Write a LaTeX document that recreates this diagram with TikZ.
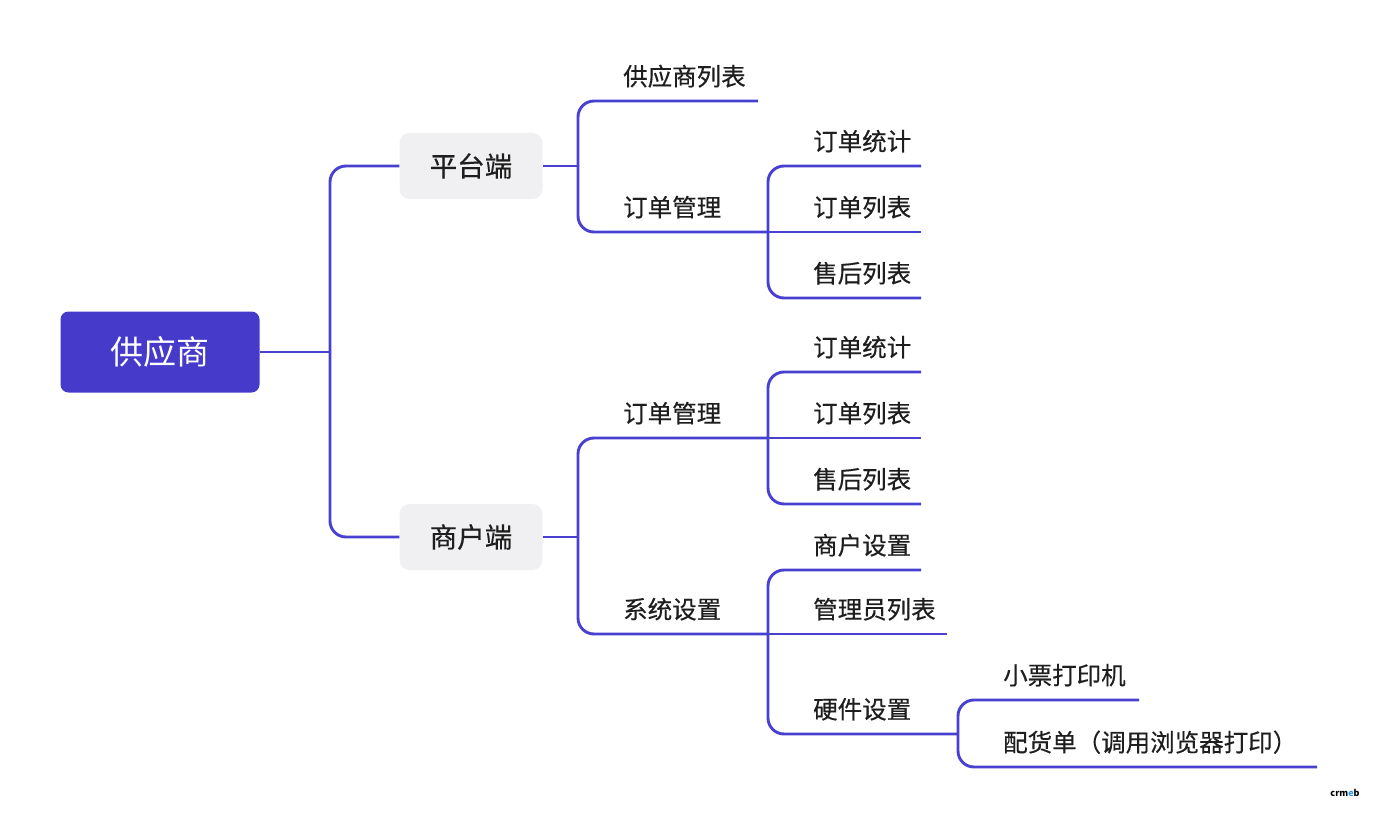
\documentclass[tikz,border=0pt]{standalone}
\usepackage{fontspec}
\newfontfamily\cjk[FakeBold=0.4]{Noto Sans CJK SC}
\newfontfamily\cjkplain{Noto Sans CJK SC}
\definecolor{lineC}{RGB}{72,64,208}
\definecolor{rootC}{RGB}{69,58,201}
\definecolor{boxC}{RGB}{240,240,243}
\definecolor{txtC}{RGB}{30,30,30}
\definecolor{wmB}{RGB}{40,150,230}
\begin{document}
\begin{tikzpicture}[x=1pt,y=-1pt,
 conn/.style={draw=lineC,line width=2.9pt,rounded corners=16pt},
 rootbox/.style={fill=rootC,rounded corners=8pt,minimum width=199pt,minimum height=81pt,text=white,font=\cjkplain\fontsize{33}{33}\selectfont,inner sep=0pt},
 l1box/.style={fill=boxC,rounded corners=10pt,minimum width=143pt,minimum height=66pt,text=txtC,font=\cjk\fontsize{27.5}{27.5}\selectfont,inner sep=0pt},
 lbl/.style={anchor=base west,inner sep=0pt,text=txtC,font=\cjk\fontsize{24.5}{24.5}\selectfont},
]
\useasboundingbox (0,0) rectangle (1378,826);

% main nodes
\node[rootbox] (R) at (160,352) {供应商};
\node[l1box] (P1) at (471,166) {平台端};
\node[l1box] (P2) at (471,537) {商户端};

% junction coordinates
\coordinate (jR) at (330,352);
\coordinate (j1) at (578,166);
\coordinate (j2) at (578,537);
\coordinate (jA) at (768,232);
\coordinate (jB) at (768,438);
\coordinate (jC) at (768,634);
\coordinate (jD) at (958,734);

% line ends
\coordinate (a1e) at (758,101);
\coordinate (a21e) at (921,166);
\coordinate (a22e) at (921,232);
\coordinate (a23e) at (921,298);
\coordinate (b11e) at (921,372);
\coordinate (b12e) at (921,438);
\coordinate (b13e) at (921,504);
\coordinate (b21e) at (921,570);
\coordinate (b22e) at (947,634);
\coordinate (b231e) at (1139,700);
\coordinate (b232e) at (1317,767);

% labels
\node[lbl] (a1) at (623,85.5) {供应商列表};
\node[lbl] (a2) at (623,216.5) {订单管理};
\node[lbl] (a21) at (813,150.5) {订单统计};
\node[lbl] (a22) at (813,216.5) {订单列表};
\node[lbl] (a23) at (813,282.5) {售后列表};
\node[lbl] (b1) at (623,422.5) {订单管理};
\node[lbl] (b11) at (813,356.5) {订单统计};
\node[lbl] (b12) at (813,422.5) {订单列表};
\node[lbl] (b13) at (813,488.5) {售后列表};
\node[lbl] (b2) at (623,618.5) {系统设置};
\node[lbl] (b21) at (813,554.5) {商户设置};
\node[lbl] (b22) at (813,618.5) {管理员列表};
\node[lbl] (b23) at (813,718.5) {硬件设置};
\node[lbl] (b231) at (1003,684.5) {小票打印机};
\node[lbl] (b232) at (1003,751.5) {配货单（调用浏览器打印）};

% connectors
\draw[conn] (R.east) -- (jR);
\draw[conn] (jR) |- (P1.west);
\draw[conn] (jR) |- (P2.west);

\draw[conn] (P1.east) -- (j1);
\draw[conn] (j1) |- (a1e);
\draw[conn] (j1) |- (jA);
\draw[conn] (jA) |- (a21e);
\draw[conn] (jA) -- (a22e);
\draw[conn] (jA) |- (a23e);

\draw[conn] (P2.east) -- (j2);
\draw[conn] (j2) |- (jB);
\draw[conn] (j2) |- (jC);
\draw[conn] (jB) |- (b11e);
\draw[conn] (jB) -- (b12e);
\draw[conn] (jB) |- (b13e);
\draw[conn] (jC) |- (b21e);
\draw[conn] (jC) -- (b22e);
\draw[conn] (jC) |- (jD);
\draw[conn] (jD) |- (b231e);
\draw[conn] (jD) |- (b232e);

% watermark
\node[inner sep=0pt,font=\cjkplain\bfseries\fontsize{9}{9}\selectfont] (wm) at (1345,793) {crm\textcolor{wmB}{e}b};
\end{tikzpicture}
\end{document}
